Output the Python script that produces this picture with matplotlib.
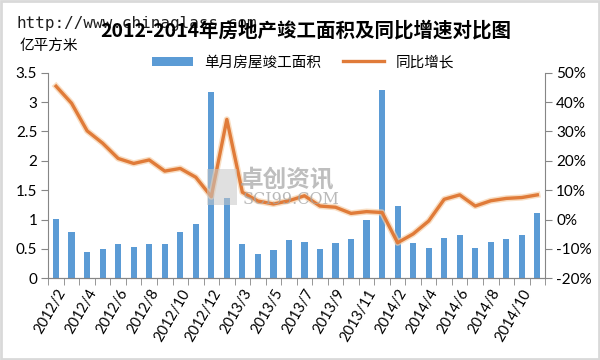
import matplotlib
matplotlib.use('Agg')
import matplotlib.pyplot as plt
from matplotlib.patches import Rectangle
from matplotlib.lines import Line2D
from matplotlib.patches import Patch
import numpy as np

plt.rcParams['font.family'] = ['Lato', 'Noto Sans CJK SC', 'DejaVu Sans']

months = (['2012/%d' % m for m in range(2, 13)] +
          ['2013/%d' % m for m in range(2, 13)] +
          ['2014/%d' % m for m in range(2, 12)])

# 单月房屋竣工面积 (亿平方米)
area = [1.01, 0.78, 0.44, 0.50, 0.59, 0.54, 0.59, 0.59, 0.78, 0.93, 3.17,
        1.36, 0.59, 0.42, 0.49, 0.66, 0.62, 0.50, 0.60, 0.67, 0.99, 3.20,
        1.23, 0.60, 0.52, 0.69, 0.74, 0.52, 0.62, 0.67, 0.74, 1.11]

# 同比增长 (%)
growth = [45.4, 39.6, 30.2, 26.0, 20.8, 19.1, 20.3, 16.5, 17.4, 14.4, 7.8,
          34.1, 9.3, 6.3, 5.3, 6.4, 8.1, 4.6, 4.2, 2.1, 2.7, 2.4,
          -7.9, -4.9, -0.5, 6.9, 8.4, 4.6, 6.4, 7.2, 7.5, 8.4]

left_ticks = [0, 0.5, 1, 1.5, 2, 2.5, 3, 3.5]
right_ticks = [-20, -10, 0, 10, 20, 30, 40, 50]

bar_color = '#5B9BD5'
line_color = '#E07B39'
axis_color = '#868686'

fig = plt.figure(figsize=(6, 3.6), dpi=100)
ax = fig.add_axes([0.0805, 0.227, 0.828, 0.571])
ax2 = ax.twinx()

x = np.arange(len(months))
ax.bar(x, area, width=0.4, color=bar_color, zorder=2)
ax2.plot(x, growth, color='#F6CFA8', lw=4.5, alpha=0.7, solid_joinstyle='round', zorder=3)
ax2.plot(x, growth, color=line_color, lw=2.4, solid_joinstyle='round', zorder=4)

ax.set_xlim(-0.5, len(months) - 0.5)
ax.set_ylim(0, 3.5)
ax2.set_ylim(-20, 50)
ax.set_yticks(left_ticks)
ax.set_yticklabels(['0', '0.5', '1', '1.5', '2', '2.5', '3', '3.5'])
ax2.set_yticks(right_ticks)
ax2.set_yticklabels(['%d%%' % v for v in right_ticks])

ax.set_xticks(x[::2])
ax.set_xticklabels(months[::2], rotation=60, ha='right', rotation_mode='anchor')
ax.set_xticks(np.arange(-0.5, len(months)), minor=True)
ax.tick_params(axis='x', which='major', length=0, pad=6, labelsize=10.5)
ax.tick_params(axis='x', which='minor', length=5, color=axis_color)
ax.tick_params(axis='y', length=5, color=axis_color, labelsize=11, pad=3)
ax2.tick_params(axis='y', length=5, color=axis_color, labelsize=11, pad=3)

for a in (ax, ax2):
    a.spines['top'].set_visible(False)
    for s in ('left', 'right', 'bottom'):
        a.spines[s].set_color(axis_color)
ax.spines['right'].set_visible(False)
ax2.spines['left'].set_visible(False)

# watermark logo
fig.text(0.40, 0.50, '卓创资讯', fontsize=17, color='#A8A8A8', alpha=0.75,
         fontweight='bold', ha='left', va='center', zorder=5)
fig.text(0.405, 0.445, 'SCI99.COM', fontsize=11.5, color='#A8A8A8', alpha=0.8,
         family='DejaVu Serif', ha='left', va='center', zorder=5)
fig.patches.append(Rectangle((0.345, 0.43), 0.05, 0.10, transform=fig.transFigure,
                             facecolor='#C8C8C8', alpha=0.55, edgecolor='none', zorder=5))

# titles and labels
fig.text(0.028, 0.935, 'http://www.chinaglass.com', fontsize=11.5,
         family='DejaVu Sans Mono', color='#202020', ha='left', va='center')
fig.text(0.51, 0.915, '2012-2014年房地产竣工面积及同比增速对比图', fontsize=14,
         fontweight='bold', family=['Noto Sans CJK SC', 'DejaVu Sans'],
         ha='center', va='center')
fig.text(0.033, 0.872, '亿平方米', fontsize=10.5, family=['Noto Sans CJK SC'],
         ha='left', va='center')

handles = [Patch(facecolor=bar_color, edgecolor='none'),
           Line2D([0], [0], color=line_color, lw=2.4)]
fig.legend(handles, ['单月房屋竣工面积', '同比增长'], loc='center',
           bbox_to_anchor=(0.505, 0.827), ncol=2, frameon=False,
           handlelength=2.8, handleheight=0.6, columnspacing=1.5,
           prop={'family': ['Noto Sans CJK SC'], 'size': 10.5})

fig.patches.append(Rectangle((0.002, 0.003), 0.996, 0.994, transform=fig.transFigure,
                             facecolor='none', edgecolor='#D9D9D9', lw=2))

fig.savefig('out.png', dpi=100)
